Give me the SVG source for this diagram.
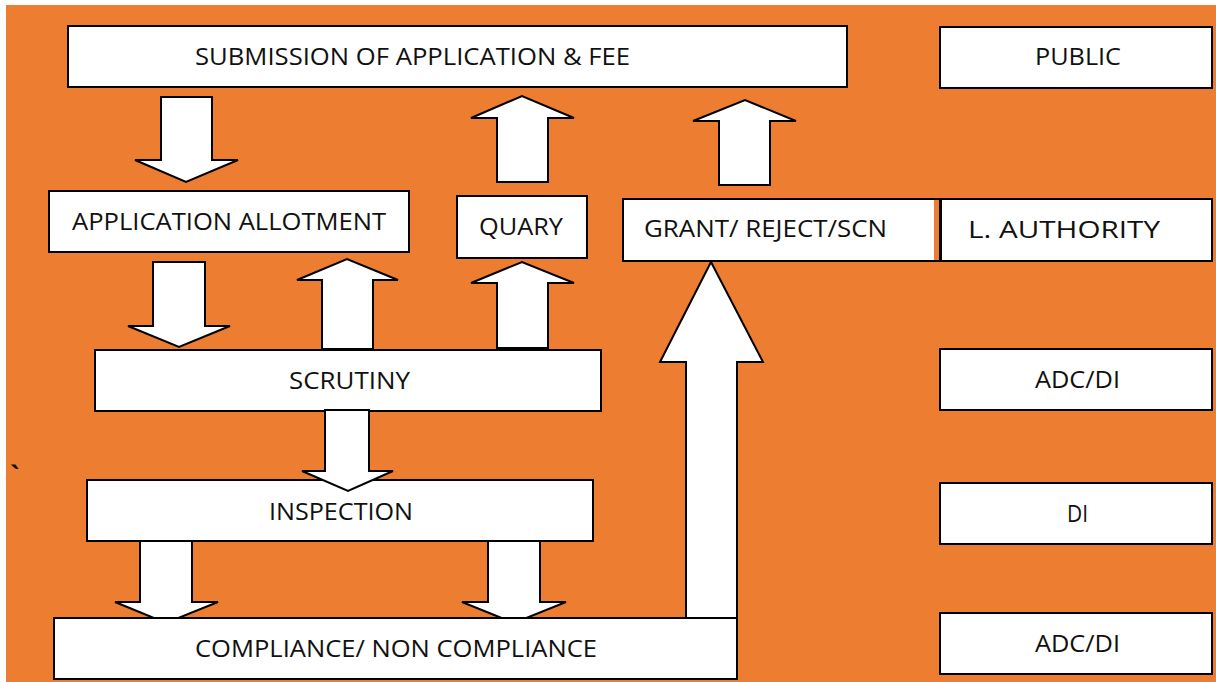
<svg xmlns="http://www.w3.org/2000/svg" width="1216" height="682" viewBox="0 0 1216 682">
<style>
.box{fill:#fff;stroke:#000;stroke-width:2}
.arr{fill:#fff;stroke:#000;stroke-width:2;stroke-linejoin:miter}
text{font-family:"Open Sans","Liberation Sans",Arial,sans-serif;font-size:24px;fill:#111}
</style>
<rect x="0" y="0" width="1216" height="682" fill="#fff"/>
<rect x="6" y="5" width="1210" height="677" fill="#ED7D31"/>
<text x="10" y="485" style="font-size:26px;font-weight:bold">`</text>
<g id="connectors">
<polygon class="arr" points="140,541 192,541 192,602 218,602 166,623 115,602 140,602"/>
<polygon class="arr" points="488,541 540,541 540,602 566,602 514,623 462,602 488,602"/>
<polygon class="arr" points="686,618 737,618 737,362 763,362 711,262 660,362 686,362"/>
</g>
<g id="submission"><rect class="box" x="68" y="26" width="779" height="61"/><text x="195" y="65" textLength="435" lengthAdjust="spacingAndGlyphs">SUBMISSION OF APPLICATION &amp; FEE</text></g>
<g id="public"><rect class="box" x="940" y="27" width="272" height="61"/><text x="1035" y="65" textLength="86" lengthAdjust="spacingAndGlyphs">PUBLIC</text></g>
<g id="allotment"><rect class="box" x="49" y="191" width="360" height="61"/><text x="72" y="230" textLength="314" lengthAdjust="spacingAndGlyphs">APPLICATION ALLOTMENT</text></g>
<g id="quary"><rect class="box" x="457" y="196" width="130" height="62"/><text x="479" y="235" textLength="84" lengthAdjust="spacingAndGlyphs">QUARY</text></g>
<g id="grant"><rect class="box" x="623" y="199" width="317" height="62"/><rect x="934" y="200" width="5" height="60" fill="#ED7D31"/><text x="644" y="237" textLength="243" lengthAdjust="spacingAndGlyphs">GRANT/ REJECT/SCN</text></g>
<g id="authority"><rect class="box" x="941" y="199" width="271" height="62"/><text x="968" y="238" textLength="192" lengthAdjust="spacingAndGlyphs">L. AUTHORITY</text></g>
<g id="scrutiny"><rect class="box" x="95" y="350" width="506" height="61"/><text x="289" y="389" textLength="121" lengthAdjust="spacingAndGlyphs">SCRUTINY</text></g>
<g id="adcdi1"><rect class="box" x="940" y="349" width="272" height="61"/><text x="1035" y="388" textLength="85" lengthAdjust="spacingAndGlyphs">ADC/DI</text></g>
<g id="inspection"><rect class="box" x="87" y="480" width="506" height="61"/><text x="269" y="520" textLength="144" lengthAdjust="spacingAndGlyphs">INSPECTION</text></g>
<g id="di"><rect class="box" x="940" y="483" width="272" height="61"/><text x="1067" y="522" textLength="21" lengthAdjust="spacingAndGlyphs">DI</text></g>
<g id="compliance"><rect class="box" x="54" y="618" width="683" height="61"/><text x="195" y="657" textLength="402" lengthAdjust="spacingAndGlyphs">COMPLIANCE/ NON COMPLIANCE</text></g>
<g id="adcdi2"><rect class="box" x="940" y="613" width="272" height="61"/><text x="1035" y="652" textLength="85" lengthAdjust="spacingAndGlyphs">ADC/DI</text></g>
<g id="connectors2">
<polygon class="arr" points="161,97 212,97 212,160 238,160 186,182 135,160 161,160"/>
<polygon class="arr" points="153,262 205,262 205,326 230,326 179,347 128,326 153,326"/>
<polygon class="arr" points="322,349 373,349 373,280 398,280 347,259 297,280 322,280"/>
<polygon class="arr" points="497,348 548,348 548,283 574,283 522,262 471,283 497,283"/>
<polygon class="arr" points="497,182 548,182 548,118 574,118 522,96 471,118 497,118"/>
<polygon class="arr" points="719,185 770,185 770,121 796,121 745,100 693,121 719,121"/>
<polygon class="arr" points="325,410 369,410 369,471 393,471 348,491 302,471 325,471"/>
</g>
</svg>
